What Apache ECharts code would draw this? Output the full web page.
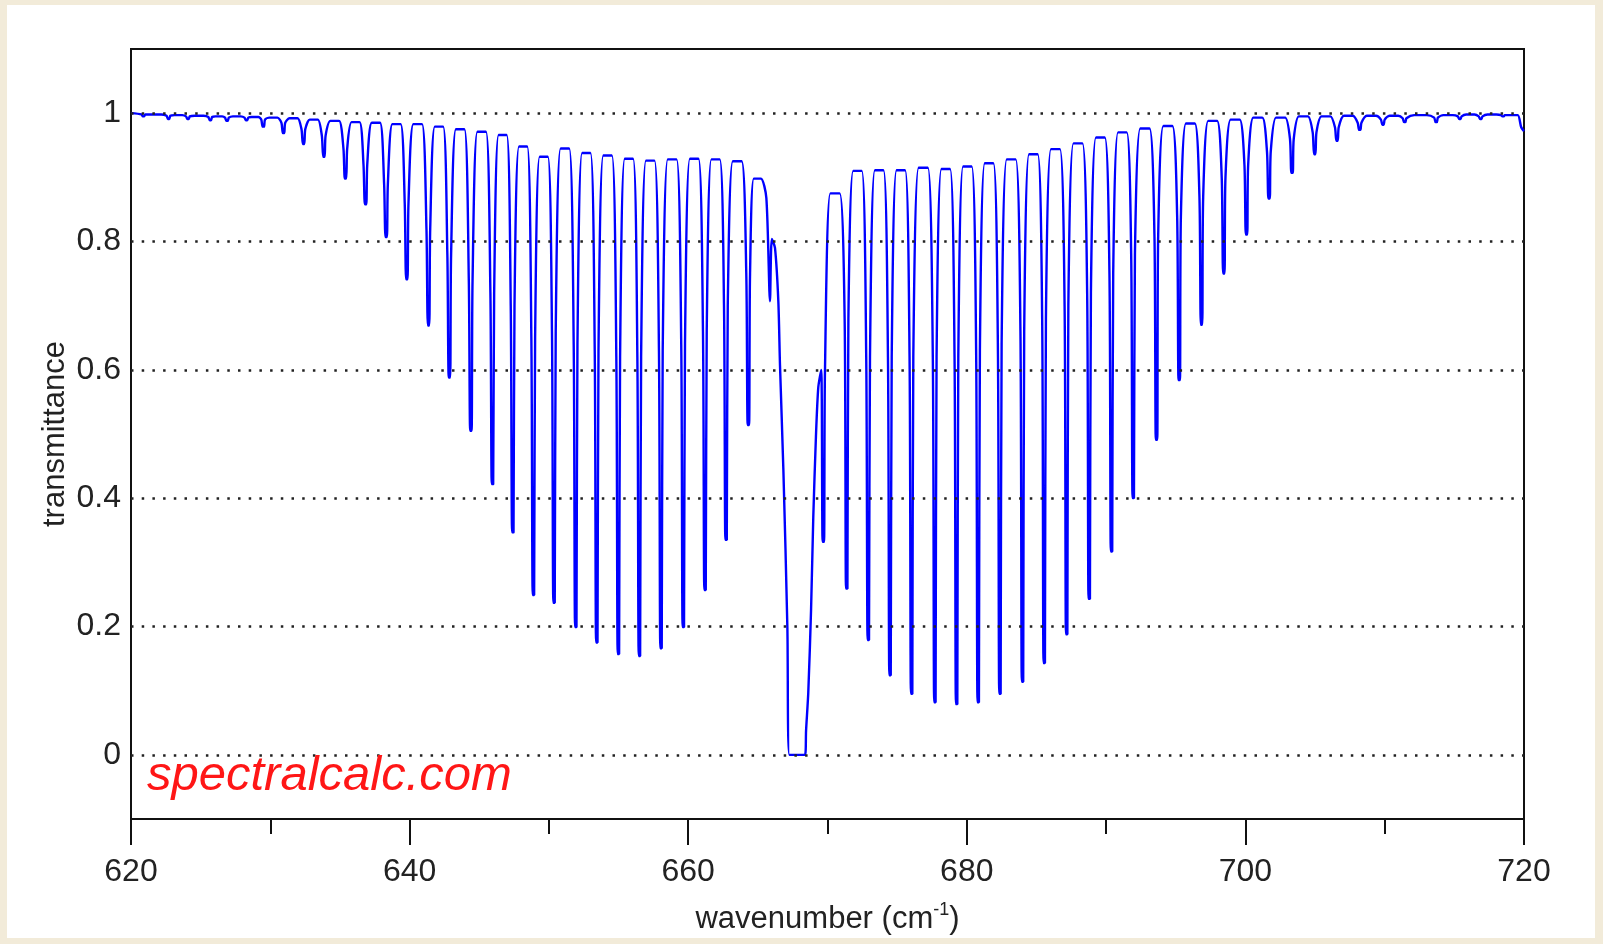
<!DOCTYPE html>
<html style="height: 100%">
<head>
	<meta charset="utf-8">
</head>
<body style="height: 100%; margin: 0; background: #f2ebd9">
<div id="container" style="position: absolute; left: 7px; top: 5px; right: 8px; bottom: 6px; background: #fff"></div>
<script type="text/javascript" src="https://cdn.jsdelivr.net/npm/echarts@6/dist/echarts.min.js"></script>
<script type="text/javascript">
    // P side: line centre (cm-1), transmittance at the dip, level where the arch walls
    // meet the needle, and the top of the arch that follows the line
    var pCenters = [620.9, 622.7, 624.1, 625.7, 626.9, 628.3, 629.5, 630.95, 632.39, 633.85,
        635.4, 636.84, 638.32, 639.8, 641.36, 642.86, 644.4, 645.95, 647.41, 648.89,
        650.37, 651.93, 653.44, 654.99, 656.5, 658.05, 659.65, 661.21, 662.72, 664.32];
    var pMinima = [0.995, 0.991, 0.991, 0.989, 0.988, 0.989, 0.979, 0.969, 0.952, 0.932,
        0.898, 0.858, 0.807, 0.741, 0.669, 0.588, 0.505, 0.422, 0.347, 0.249,
        0.237, 0.199, 0.175, 0.157, 0.154, 0.166, 0.199, 0.257, 0.335, 0.514];
    var pShoulders = [0.998, 0.996, 0.995, 0.994, 0.993, 0.993, 0.99, 0.985, 0.975, 0.965,
        0.945, 0.92, 0.89, 0.86, 0.82, 0.78, 0.74, 0.72, 0.7, 0.65,
        0.66, 0.64, 0.63, 0.62, 0.62, 0.63, 0.64, 0.66, 0.7, 0.75];
    var pTops = [0.998, 0.997, 0.996, 0.995, 0.995, 0.994, 0.993, 0.992, 0.99, 0.988,
        0.986, 0.985, 0.983, 0.983, 0.979, 0.975, 0.971, 0.966, 0.948, 0.932,
        0.945, 0.938, 0.934, 0.929, 0.926, 0.928, 0.929, 0.928, 0.925, 0.898];

    // Q branch, read point by point
    var qWavenumbers = [665.61, 665.87, 666.0, 666.23, 666.47, 666.59, 666.83, 667.12, 667.26,
        668.39, 668.46, 668.62, 668.82, 668.98, 669.17, 669.34];
    var qTransmittance = [0.868, 0.707, 0.804, 0.79, 0.707, 0.607, 0.446, 0.198, 0.0,
        0.0, 0.037, 0.097, 0.226, 0.371, 0.496, 0.573];

    // R side
    var rCenters = [669.7, 671.38, 672.93, 674.49, 676.04, 677.71, 679.27, 680.82, 682.38, 684.0,
        685.56, 687.17, 688.79, 690.39, 691.95, 693.62, 695.25, 696.85, 698.45, 700.08,
        701.7, 703.35, 704.98, 706.58, 708.21, 709.88, 711.44, 713.7, 715.4, 716.9, 718.5];
    var rMinima = [0.332, 0.259, 0.179, 0.124, 0.095, 0.082, 0.079, 0.082, 0.095, 0.114,
        0.143, 0.188, 0.243, 0.317, 0.40, 0.491, 0.584, 0.67, 0.75, 0.811,
        0.867, 0.907, 0.936, 0.957, 0.974, 0.982, 0.986, 0.986, 0.991, 0.991, 0.995];
    var rShoulders = [0.6, 0.68, 0.62, 0.62, 0.62, 0.62, 0.62, 0.63, 0.64, 0.66,
        0.68, 0.7, 0.72, 0.75, 0.78, 0.81, 0.84, 0.87, 0.9, 0.92,
        0.94, 0.96, 0.97, 0.978, 0.985, 0.99, 0.992, 0.993, 0.995, 0.995, 0.997];
    var rTops = [0.875, 0.91, 0.911, 0.911, 0.915, 0.913, 0.917, 0.922, 0.928, 0.936,
        0.944, 0.953, 0.962, 0.97, 0.976, 0.98, 0.984, 0.988, 0.99, 0.993,
        0.993, 0.995, 0.995, 0.996, 0.996, 0.996, 0.997, 0.997, 0.998, 0.998, 0.997];

    var startWn = [620], startT = [1.0];
    var edgeWn = [719.8, 720], edgeT = [0.978, 0.972];

    var xTicks = [620, 640, 660, 680, 700, 720];
    var yTicks = [0, 0.2, 0.4, 0.6, 0.8, 1];
    var yTickLabels = ['0', '0.2', '0.4', '0.6', '0.8', '1'];

    var spectrum = [];

    function pushPairs(wn, t) {
        for (var i = 0; i < wn.length; i++) spectrum.push([wn[i], t[i]]);
    }

    // each line: needle from its shoulder down to the minimum, then the arch up to the next one
    function pushLines(centers, minima, shoulders, tops, nextStart) {
        for (var i = 0; i < centers.length; i++) {
            var c = centers[i];
            spectrum.push([c - 0.15, shoulders[i]], [c - 0.05, minima[i]],
                [c + 0.05, minima[i]], [c + 0.12, shoulders[i]]);
            var next = i + 1 < centers.length ? centers[i + 1] : nextStart;
            var gap = next - c;
            spectrum.push([c + 0.3 * gap, tops[i]], [c + 0.7 * gap, tops[i]]);
        }
    }

    pushPairs(startWn, startT);
    pushLines(pCenters, pMinima, pShoulders, pTops, qWavenumbers[0]);
    pushPairs(qWavenumbers, qTransmittance);
    pushLines(rCenters, rMinima, rShoulders, rTops, edgeWn[edgeWn.length - 1]);
    pushPairs(edgeWn, edgeT);

    var font = 'Liberation Sans';
    var dom = document.getElementById('container');
    var myChart = echarts.init(dom);

    var option = {
        animation: false,
        grid: {
            left: 124, top: 44, right: 71, bottom: 119,
            outerBoundsMode: 'none',
            containLabel: false,
            show: true, borderColor: '#111', borderWidth: 2
        },
        xAxis: {
            type: 'value',
            min: 620, max: 720, interval: 20,
            name: 'wavenumber (cm{sup|-1})',
            nameLocation: 'middle',
            nameGap: 82,
            nameMoveOverlap: false,
            nameTextStyle: {
                fontFamily: font, fontSize: 31, color: '#222', lineHeight: 36,
                rich: {sup: {fontFamily: font, fontSize: 18, color: '#222', verticalAlign: 'top', lineHeight: 36}}
            },
            axisLine: {onZero: false, lineStyle: {color: '#111', width: 2}},
            axisTick: {show: true, inside: false, length: 26, lineStyle: {color: '#111', width: 2}},
            minorTick: {show: true, splitNumber: 2, length: 15, lineStyle: {color: '#111', width: 2}},
            axisLabel: {
                fontFamily: font, fontSize: 32, color: '#222', margin: 37,
                showMinLabel: true, showMaxLabel: true,
                formatter: function (v) {
                    return xTicks.indexOf(Math.round(v)) >= 0 ? String(Math.round(v)) : '';
                }
            },
            splitLine: {show: false}
        },
        yAxis: {
            type: 'value',
            min: -0.1, max: 1.1, interval: 0.1,
            name: 'transmittance',
            nameLocation: 'middle',
            nameGap: 60,
            nameMoveOverlap: false,
            nameTextStyle: {fontFamily: font, fontSize: 31, color: '#222'},
            axisLine: {lineStyle: {color: '#111', width: 2}},
            axisTick: {show: false},
            axisLabel: {
                fontFamily: font, fontSize: 32, color: '#222', margin: 10,
                formatter: function (v) {
                    for (var i = 0; i < yTicks.length; i++) {
                        if (Math.abs(v - yTicks[i]) < 1e-6) return yTickLabels[i];
                    }
                    return '';
                }
            },
            splitLine: {show: false}
        },
        graphic: [{
            type: 'text',
            left: 140, top: 747,
            z: 100,
            style: {
                text: 'spectralcalc.com',
                fill: '#ff1616',
                fontFamily: font, fontSize: 49, fontStyle: 'italic'
            }
        }],
        series: [{
            type: 'line',
            data: spectrum,
            showSymbol: false,
            symbol: 'none',
            smooth: 0.25,
            lineStyle: {color: '#0000ff', width: 2.4},
            markLine: {
                silent: true,
                symbol: 'none',
                label: {show: false},
                lineStyle: {color: '#222', width: 2.5, type: [2.5, 8.2]},
                data: yTicks.map(function (v) { return {yAxis: v}; })
            }
        }]
    };

    myChart.setOption(option);
    window.addEventListener('resize', function () {
        myChart.resize();
    });
</script>
</body>
</html>
